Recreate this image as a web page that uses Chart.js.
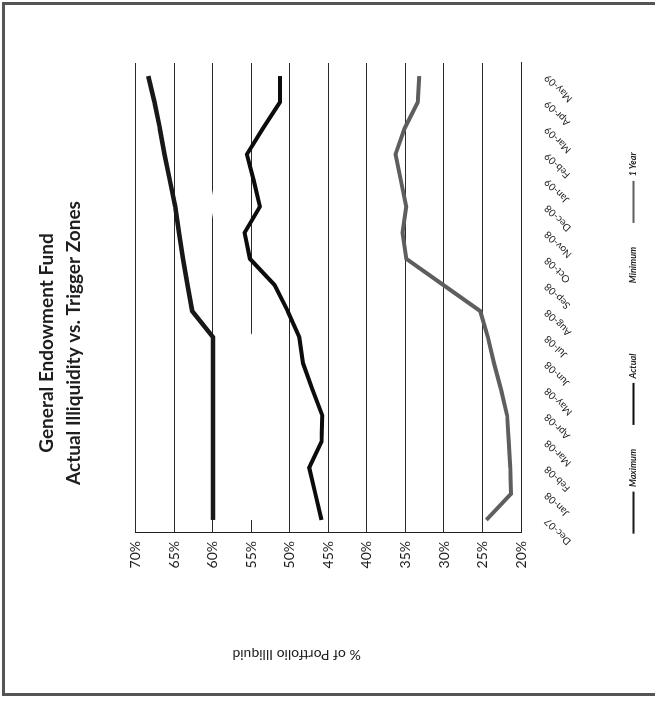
<!DOCTYPE html>
<html>
<head>
<meta charset="utf-8">
<script src="https://cdn.jsdelivr.net/npm/chart.js@4.4.1/dist/chart.umd.min.js"></script>
<style>
  html, body { margin: 0; padding: 0; background: #fff; width: 655px; height: 702px; overflow: hidden; }
  #page { position: absolute; left: 2px; top: 2px; width: 720px; height: 694px; box-sizing: border-box;
          border: 3px solid #555; border-right: none; }
  #wrap { position: absolute; left: -13px; top: 17px; width: 706px; height: 640px;
          transform: rotate(-90deg); transform-origin: 50% 50%; }
  canvas { display: block; }
</style>
</head>
<body>
<div id="wrap"><canvas id="chart" width="706" height="640"></canvas></div>
<div id="page"></div>
<script>
// Month-end observations
const categories = ['Dec-07','Jan-08','Feb-08','Mar-08','Apr-08','May-08','Jun-08','Jul-08','Aug-08',
                    'Sep-08','Oct-08','Nov-08','Dec-08','Jan-09','Feb-09','Mar-09','Apr-09','May-09'];

// Illiquid share of the portfolio, in percent
const maximumPct = [60, 60, 60, 60, 60, 60, 60, 60, 62.7, 63.3, 63.9, 64.4, 64.9, 65.6, 66.3, 66.9, 67.6, 68.4];
const actualPct  = [45.9, 46.7, 47.5, 45.9, 45.8, 47.1, 48.3, 48.8, 50.3, 52.0, 55.2, 55.9, 53.9, 54.7, 55.6, 53.5, 51.3, 51.3];
const minimumPct = [55, 55, 55, 55, 55, 55, 55, 55, 57.7, 58.3, 58.9, 59.4, 60.0, 60.6, 61.3, 61.9, 62.6, 63.4];
const oneYearPct = [24.5, 21.3, 21.4, 21.6, 21.8, 22.6, 23.5, 24.3, 25.3, 30.1, 34.9, 35.4, 34.9, 35.6, 36.3, 35.1, 33.4, 33.2];

// Value axis ticks
const percentTicks = [20, 25, 30, 35, 40, 45, 50, 55, 60, 65, 70];

const chartTitle = ['General Endowment Fund', 'Actual Illiquidity vs. Trigger Zones'];
const valueAxisTitle = '% of Portfolio Illiquid';

const FONT = 'Lato, "Open Sans", sans-serif';
Chart.defaults.font.family = FONT;
Chart.defaults.color = '#1e1e1e';

// Value-axis caption, set a little toward the low end of the axis
const sideTitle = {
  id: 'sideTitle',
  afterDraw(chart) {
    const { ctx, chartArea } = chart;
    ctx.save();
    ctx.font = '14px ' + FONT;
    ctx.fillStyle = '#1e1e1e';
    ctx.textAlign = 'center';
    ctx.textBaseline = 'middle';
    ctx.translate(35, (chartArea.top + chartArea.bottom) / 2 - 32);
    ctx.rotate(-Math.PI / 2);
    ctx.fillText(valueAxisTitle, 0, 0);
    ctx.restore();
  }
};

function line(label, data, color, width) {
  return {
    label, data,
    borderColor: color, backgroundColor: color,
    borderWidth: width, pointRadius: 0, tension: 0, fill: false,
    pointStyle: 'line'
  };
}

function draw() {
  new Chart(document.getElementById('chart'), {
    type: 'line',
    data: {
      labels: categories,
      datasets: [
        line('Maximum', maximumPct, '#181818', 4.5),
        line('Actual', actualPct, '#0c0c0c', 4),
        line('Minimum', minimumPct, '#ffffff', 4),
        line('1 Year', oneYearPct, '#5e5e5e', 4)
      ]
    },
    plugins: [sideTitle],
    options: {
      responsive: false,
      animation: false,
      layout: { padding: { left: 67, right: 79, top: 0, bottom: 12 } },
      plugins: {
        title: {
          display: true,
          text: chartTitle,
          font: { size: 19, weight: 'bold', lineHeight: 1.42 },
          color: '#1e1e1e',
          padding: { top: 13, bottom: 49 }
        },
        legend: {
          position: 'bottom',
          labels: {
            usePointStyle: true,
            pointStyleWidth: 42,
            boxHeight: 9,
            padding: 24,
            color: '#1e1e1e',
            font: { size: 9, style: 'italic', weight: 'bold' },
            generateLabels(chart) {
              const items = Chart.defaults.plugins.legend.labels.generateLabels(chart);
              items.forEach(it => { it.lineWidth = 2; });
              return items;
            }
          }
        },
        tooltip: { enabled: false }
      },
      scales: {
        x: {
          offset: true,
          grid: { display: false, drawTicks: false },
          border: { display: true, color: '#222', width: 1 },
          ticks: { minRotation: 45, maxRotation: 45, autoSkip: false, padding: 21,
                   font: { size: 10 }, color: '#1e1e1e' },
          afterFit(scale) { scale.height = 84; }
        },
        y: {
          min: 20, max: 70,
          afterBuildTicks(scale) { scale.ticks = percentTicks.map(v => ({ value: v })); },
          grid: { color: '#2a2a2a', lineWidth: 1, drawTicks: false },
          border: { display: true, color: '#222', width: 1 },
          ticks: { padding: 8, font: { size: 14 }, color: '#1e1e1e',
                   callback: v => v + '%' },
          afterFit(scale) { scale.width = 90; }
        }
      }
    }
  });
}

Promise.all([
  document.fonts.load('14px Lato'),
  document.fonts.load('10px Lato'),
  document.fonts.load('bold 19px Lato'),
  document.fonts.load('italic bold 9px Lato')
]).then(draw, draw);
</script>
</body>
</html>
